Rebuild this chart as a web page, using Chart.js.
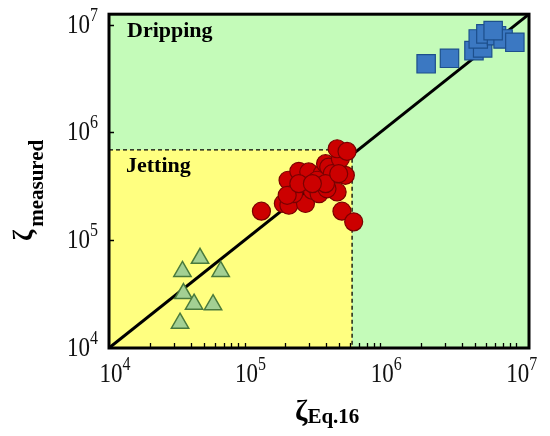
<!DOCTYPE html>
<html>
<head>
<meta charset="utf-8">
<script src="https://cdn.jsdelivr.net/npm/chart.js@4"></script>
<style>
  html, body { margin: 0; padding: 0; background: #fff; }
  #wrap { width: 550px; height: 436px; }
</style>
</head>
<body>
<div id="wrap"><canvas id="chart"></canvas></div>
<script>
// values
const triX = [4.69e4, 3.48e4, 6.66e4, 3.54e4, 4.24e4, 5.85e4, 3.34e4];
const triY = [6.8e4, 5.13e4, 5.13e4, 3.2e4, 2.55e4, 2.52e4, 1.7e4];

const circX = [1.33e5, 1.93e5, 2.12e5, 2.81e5, 2.09e5, 2.51e5, 2.97e5, 2.3e5, 2.06e5, 3.16e5,
               3.54e5, 3.73e5, 3.95e5, 4.17e5, 4.42e5, 5.08e5, 4.81e5, 5.69e5, 5.53e5, 4.81e5,
               4.05e5, 5.22e5, 6.37e5, 3.42e5, 3.95e5, 2.51e5, 3.16e5, 4.94e5];
const circY = [1.86e5, 2.19e5, 2.11e5, 2.19e5, 3.6e5, 4.36e5, 4.3e5, 2.7e5, 2.61e5, 2.9e5,
               2.7e5, 4.14e5, 5.13e5, 4.77e5, 4.14e5, 5.7e5, 7.06e5, 6.67e5, 4.0e5, 2.8e5,
               3.0e5, 1.86e5, 1.48e5, 3.6e5, 3.35e5, 3.35e5, 3.35e5, 4.14e5];

const sqX = [2.18e6, 3.24e6, 4.91e6, 5.69e6, 5.28e6, 6.01e6, 7.2e6, 8.05e6, 9.83e6, 6.8e6];
const sqY = [4.33e6, 4.87e6, 5.74e6, 6.08e6, 7.37e6, 8.21e6, 7.9e6, 7.37e6, 6.86e6, 8.8e6];

const tickValues = [1e4, 1e5, 1e6, 1e7];
const tickBase = "10";
const tickPowers = ["4", "5", "6", "7"];
const axisMin = 1e4;
const axisMax = 1.25e7;
const jetX = 6.2e5;   // jetting / dripping boundary
const jetY = 6.9e5;

const serif = "'Liberation Serif', 'Times New Roman', serif";

const pts = (xs, ys) => xs.map((v, i) => ({ x: v, y: ys[i] }));

// "10" with a raised power, slightly tall like the original lettering
function powerLabel(ctx, left, baseline, pow) {
  ctx.save();
  ctx.translate(left, baseline);
  ctx.scale(1, 1.2);
  ctx.font = "23px " + serif;
  const w = ctx.measureText(tickBase).width;
  ctx.fillText(tickBase, 0, 0);
  ctx.font = "16px " + serif;
  ctx.fillText(pow, w, -10);
  ctx.restore();
}

function powerWidth(ctx, pow) {
  ctx.save();
  ctx.font = "23px " + serif;
  const w = ctx.measureText(tickBase).width;
  ctx.font = "16px " + serif;
  const w2 = ctx.measureText(pow).width;
  ctx.restore();
  return { base: w, total: w + w2 };
}

// background regions, frame, inward ticks, labels, titles
const decor = {
  id: "decor",
  beforeDatasetsDraw(chart) {
    const { ctx, chartArea: a, scales: { x, y } } = chart;
    ctx.save();
    ctx.fillStyle = "#c4fbb9";
    ctx.fillRect(a.left, a.top, a.width, a.height);
    const jx = x.getPixelForValue(jetX);
    const jy = y.getPixelForValue(jetY);
    ctx.fillStyle = "#ffff80";
    ctx.fillRect(a.left, jy, jx - a.left, a.bottom - jy);

    ctx.fillStyle = "#000";
    ctx.font = "bold 22px " + serif;
    ctx.textBaseline = "alphabetic";
    ctx.fillText("Dripping", a.left + 18, a.top + 23);
    ctx.fillText("Jetting", a.left + 17, jy + 22);
    ctx.restore();
  },
  afterDatasetsDraw(chart) {
    const { ctx, chartArea: a, scales: { x, y } } = chart;
    ctx.save();
    ctx.strokeStyle = "#000";
    ctx.lineWidth = 1.3;
    ctx.beginPath();
    // minor + major ticks on x, pointing inward
    for (let d = 1e4; d < 1e7; d *= 10) {
      for (let m = 1; m <= 10; m++) {
        const px = Math.round(x.getPixelForValue(m * d)) + 0.5;
        if (px <= a.left + 2 || px >= a.right - 2) continue;
        ctx.moveTo(px, a.bottom);
        ctx.lineTo(px, a.bottom - 5);
      }
    }
    // major ticks on y only
    tickValues.forEach((v) => {
      const py = Math.round(y.getPixelForValue(v)) + 0.5;
      if (py <= a.top + 2 || py >= a.bottom - 2) return;
      ctx.moveTo(a.left, py);
      ctx.lineTo(a.left + 5, py);
    });
    ctx.stroke();

    ctx.lineWidth = 3;
    ctx.strokeRect(a.left, a.top, a.width, a.height);
    ctx.restore();
  },
  afterDraw(chart) {
    const { ctx, chartArea: a, scales: { x, y } } = chart;
    ctx.save();
    ctx.fillStyle = "#111";
    ctx.textBaseline = "alphabetic";

    // tick labels
    tickValues.forEach((v, i) => {
      const m = powerWidth(ctx, tickPowers[i]);
      const px = x.getPixelForValue(v);
      powerLabel(ctx, px + 2 - m.base / 2, a.bottom + 34, tickPowers[i]);
      const py = y.getPixelForValue(v);
      powerLabel(ctx, a.left - 11 - m.total, py + 8, tickPowers[i]);
    });

    ctx.fillStyle = "#000";
    // x title
    const cx = (a.left + a.right) / 2;
    ctx.font = "bold 30px " + serif;
    const zw = ctx.measureText("ζ").width;
    const x0 = cx - 24;
    ctx.fillText("ζ", x0, 420);
    ctx.font = "bold 21px " + serif;
    ctx.fillText("Eq.16", x0 + zw, 423);

    // y title, rotated
    ctx.translate(32, 241);
    ctx.rotate(-Math.PI / 2);
    ctx.font = "bold 27px " + serif;
    const zw2 = ctx.measureText("ζ").width;
    ctx.fillText("ζ", 0, 0);
    ctx.font = "bold 21px " + serif;
    ctx.fillText("measured", zw2 + 3, 11);
    ctx.restore();
  }
};

new Chart(document.getElementById("chart"), {
  type: "scatter",
  data: {
    datasets: [
      {
        label: "squares",
        data: pts(sqX, sqY),
        pointStyle: "rect",
        pointRadius: 13,
        backgroundColor: "#3b78c2",
        borderColor: "#1d4f8c",
        borderWidth: 1.2,
        clip: false,
        order: 1
      },
      {
        label: "circles",
        data: pts(circX, circY),
        pointStyle: "circle",
        pointRadius: 9,
        backgroundColor: "#cc0000",
        borderColor: "#7a0000",
        borderWidth: 1.2,
        clip: false,
        order: 2
      },
      {
        label: "triangles",
        data: pts(triX, triY),
        pointStyle: "triangle",
        pointRadius: 10,
        backgroundColor: "#a3d093",
        borderColor: "#4a7a3c",
        borderWidth: 1.5,
        clip: false,
        order: 3
      },
      {
        label: "y = x",
        type: "line",
        data: [{ x: axisMin, y: axisMin }, { x: axisMax, y: axisMax }],
        borderColor: "#000",
        borderWidth: 3,
        pointRadius: 0,
        order: 4
      },
      {
        label: "boundary",
        type: "line",
        data: [{ x: axisMin, y: jetY }, { x: jetX, y: jetY }, { x: jetX, y: axisMin }],
        borderColor: "#000",
        borderWidth: 1.3,
        borderDash: [4, 3],
        pointRadius: 0,
        order: 5
      }
    ]
  },
  options: {
    responsive: true,
    maintainAspectRatio: false,
    animation: false,
    layout: { padding: { left: 0, right: 21, top: 13, bottom: 0 } },
    plugins: {
      legend: { display: false },
      tooltip: { enabled: false }
    },
    scales: {
      x: {
        type: "logarithmic",
        min: axisMin,
        max: axisMax,
        border: { display: false },
        grid: { display: false },
        afterFit: (s) => { s.height = 88; },
        ticks: { display: false }
      },
      y: {
        type: "logarithmic",
        min: axisMin,
        max: axisMax,
        border: { display: false },
        grid: { display: false },
        afterFit: (s) => { s.width = 109; },
        ticks: { display: false }
      }
    }
  },
  plugins: [decor]
});
</script>
</body>
</html>
